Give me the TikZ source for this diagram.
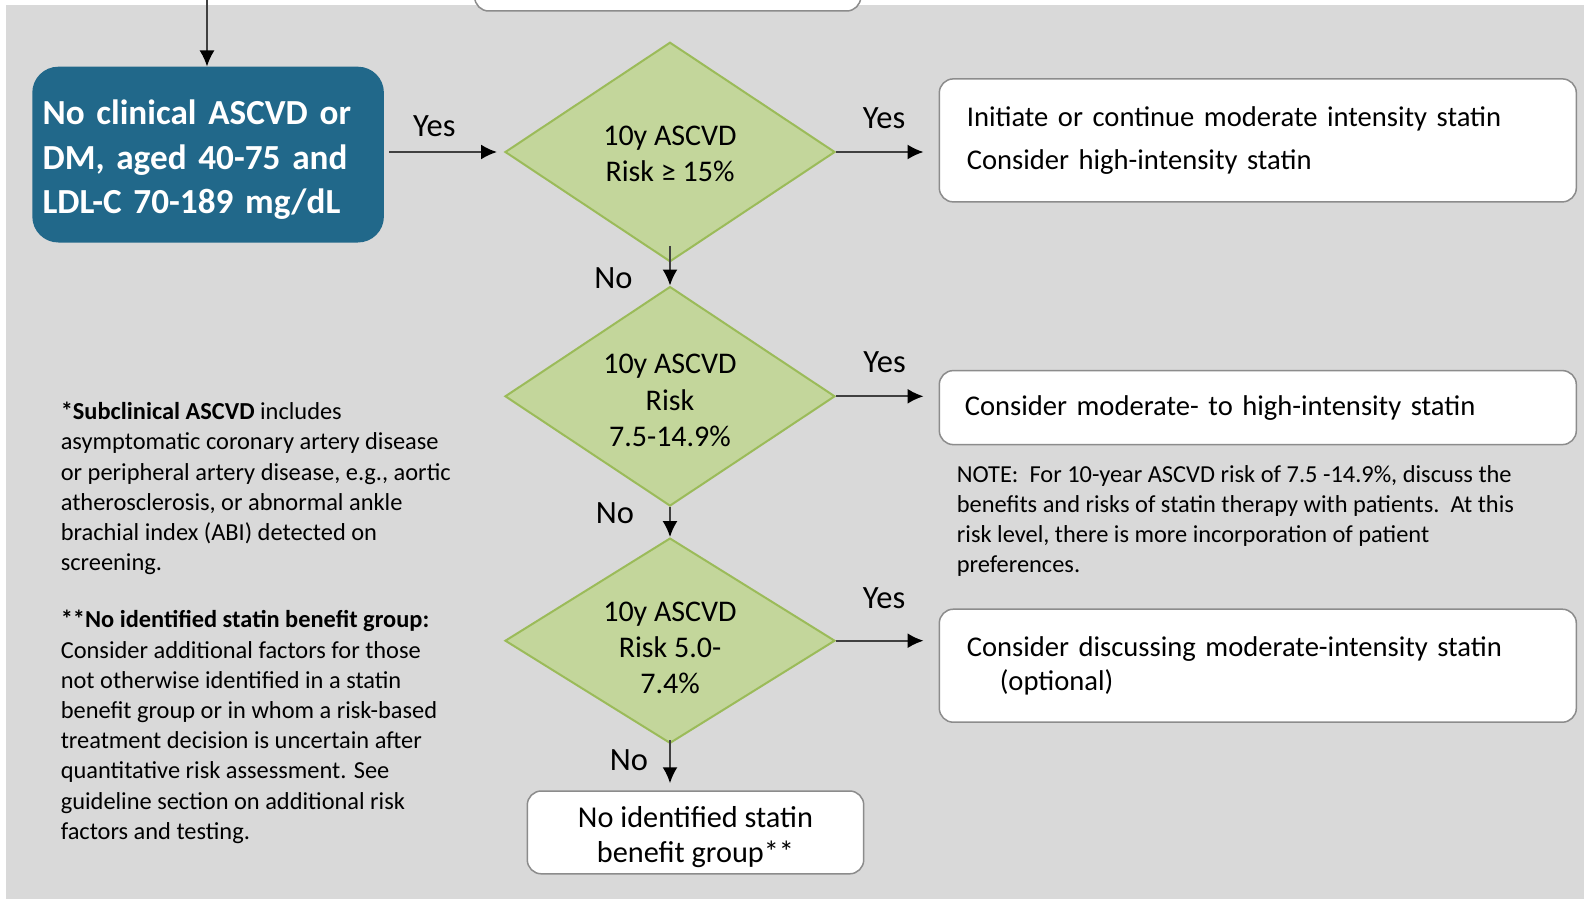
\documentclass[tikz,border=0pt]{standalone}
\usepackage{fontspec}
\setmainfont{Carlito}
\usetikzlibrary{shapes.geometric,arrows.meta}

\definecolor{bggray}{RGB}{217,217,217}
\definecolor{cvdblue}{RGB}{33,104,138}
\definecolor{riskfill}{RGB}{195,214,155}
\definecolor{riskline}{RGB}{155,187,89}
\definecolor{boxline}{RGB}{140,140,140}
\definecolor{arrowgray}{RGB}{64,64,64}

\tikzset{
  riskdiamond/.style={diamond, aspect=1.5, draw=riskline, fill=riskfill, line width=2pt,
    minimum width=330pt, inner sep=0pt, align=center,
    font=\fontsize{30}{36.4}\selectfont},
  statinbox/.style={draw=boxline, fill=white, rounded corners=14pt,
    line width=1.5pt, inner sep=0pt, font=\fontsize{28.6}{43.4}\selectfont},
  answer/.style={font=\fontsize{32.5}{39}\selectfont},
  flow/.style={draw=arrowgray, line width=2pt,
    -{Latex[length=16pt,width=15pt,color=black]}},
}

\begin{document}
\begin{tikzpicture}[x=1pt, y=-1pt]
        \useasboundingbox (0,0) rectangle (1584,899);
        \fill[white] (0,0) rectangle (1584,899);
        \fill[bggray] (6,5) rectangle (1584,899);

        %nodes
        \node[statinbox, minimum width=386pt, minimum height=80pt] (prior) at (667.7,-29) {};
        \node[fill=cvdblue, rounded corners=26pt, minimum width=351.6pt, minimum height=175.8pt,
              text width=331pt, inner sep=0pt, align=left, text=white,
              font=\bfseries\fontsize{35.2}{44.4}\selectfont] (cvd) at (208.1,154.6)
              {\rule{0pt}{35pt}No clinical ASCVD or\\DM, aged 40-75 and\\LDL-C 70-189 mg/dL};

        \node[riskdiamond, minimum height=219.5pt] (high) at (670,152)
              {\rule{0pt}{23pt}10y ASCVD\\Risk ≥ 15\%};
        \node[riskdiamond, minimum height=219.5pt] (mod) at (670,396.3)
              {\rule{0pt}{28pt}10y ASCVD\\Risk\\7.5-14.9\%};
        \node[riskdiamond, minimum height=205.3pt] (low) at (670,640.7)
              {\rule{0pt}{34pt}10y ASCVD\\Risk 5.0-\\7.4\%};

        \node[statinbox, minimum width=637pt, minimum height=123pt, text width=582pt, align=left]
              (initiate) at (1257.8,140.4) {Initiate or continue moderate intensity statin\\Consider high-intensity statin};
        \node[statinbox, minimum width=637pt, minimum height=74pt, text width=586pt, align=left]
              (modhigh) at (1257.8,407.6) {Consider moderate- to high-intensity statin};
        \node[statinbox, minimum width=637pt, minimum height=113pt, text width=582pt, align=left,
              font=\fontsize{28.6}{33.4}\selectfont]
              (discuss) at (1257.8,665.7) {Consider discussing moderate-intensity statin\\\hspace*{33pt}(optional)};
        \node[statinbox, minimum width=336.4pt, minimum height=82.8pt, align=center,
              font=\fontsize{30.3}{35.4}\selectfont]
              (nogroup) at (695.5,832.4) {\rule{0pt}{30.5pt}No identified statin\\benefit group**};

        \begin{scope}[every node/.style = {anchor = north west, align = left, inner sep = 0pt,
                      font = \fontsize{24.4}{30.2}\selectfont}]
          \node (note) at (956.7,465) {NOTE:\ \ For 10-year ASCVD risk of 7.5 -14.9\%, discuss the\\
            benefits and risks of statin therapy with patients.\ \ At this\\
            risk level, there is more incorporation of patient\\
            preferences.};
          \node (footnote) at (60.6,402) {\textbf{*Subclinical ASCVD} includes\\
            asymptomatic coronary artery disease\\
            or peripheral artery disease, e.g., aortic\\
            atherosclerosis, or abnormal ankle\\
            brachial index (ABI) detected on\\
            screening.\\[27pt]
            \textbf{**No identified statin benefit group:}\\
            Consider additional factors for those\\
            not otherwise identified in a statin\\
            benefit group or in whom a risk-based\\
            treatment decision is uncertain after\\
            quantitative risk assessment. See\\
            guideline section on additional risk\\
            factors and testing.};
        \end{scope}

        %labels
        \node[answer] (yes0) at (434.4,126.3) {Yes};
        \node[answer] (yes1) at (884,118) {Yes};
        \node[answer] (yes2) at (884.5,362) {Yes};
        \node[answer] (yes3) at (884,598) {Yes};
        \node[answer] (no1) at (613.5,278) {No};
        \node[answer] (no2) at (615,513) {No};
        \node[answer] (no3) at (629,760) {No};

        %edges
        \coordinate (entry) at (207,0);
        \path [flow] (entry) to (entry |- cvd.north);
        \path [flow, shorten <=5pt, shorten >=7pt] (cvd.east |- high.west) to (high.west);
        \path [flow, shorten >=15pt] (high.east) to (initiate.west |- high.east);
        \path [flow, shorten >=15pt] (mod.east) to (modhigh.west |- mod.east);
        \path [flow, shorten >=15pt] (low.east) to (discuss.west |- low.east);
        \path [flow] ([yshift=17pt]high.south) to (mod.north);
        \path [flow] (mod.south) to (low.north);
        \path [flow, shorten >=7pt] ([yshift=4pt]low.south) to (nogroup.north -| low.south);
      \end{tikzpicture}
\end{document}
